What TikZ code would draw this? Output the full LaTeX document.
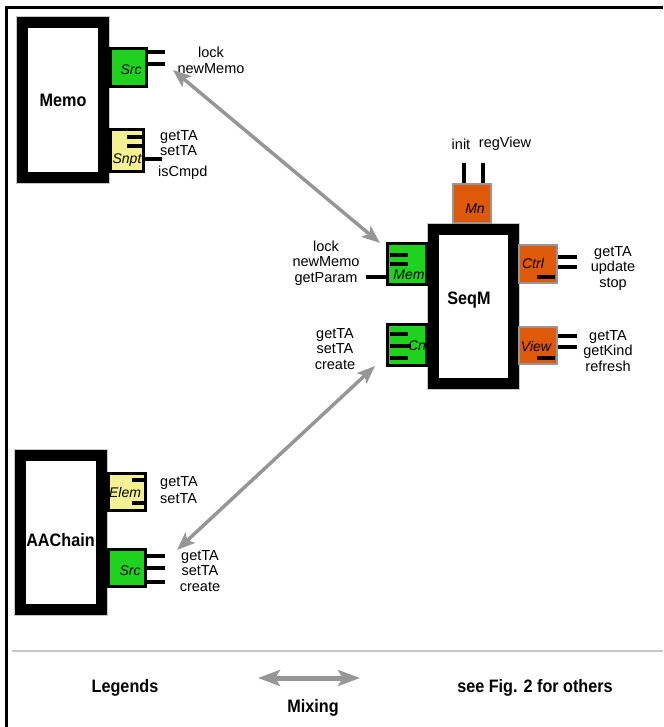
\documentclass[tikz,border=0pt]{standalone}
\usepackage{fontspec}
\setmainfont{Liberation Sans}
\newfontfamily\titlefont[FakeStretch=0.9]{Liberation Sans}
\usetikzlibrary{arrows.meta}
\definecolor{pgreen}{RGB}{30,210,30}
\definecolor{pyellow}{RGB}{245,240,145}
\definecolor{porange}{RGB}{222,90,10}
\definecolor{agray}{RGB}{150,150,150}
\definecolor{lgray}{RGB}{200,200,200}
\tikzset{
 bigbox/.style={draw=black, line width=11pt, fill=white, preaction={draw=lgray, line width=13pt}, inner sep=0pt},
 greenport/.style={draw=black, line width=3.5pt, fill=pgreen, inner sep=0pt},
 yellowport/.style={draw=black, line width=3.5pt, fill=pyellow, inner sep=0pt},
 orangeport/.style={draw=agray, line width=2pt, fill=porange, inner sep=0pt},
 pin/.style={line width=3.5pt, black},
 lbl/.style={font=\fontsize{14.5}{15.5}\selectfont, inner sep=0pt, align=center},
 lbll/.style={font=\fontsize{14.5}{15.5}\selectfont, inner sep=0pt, anchor=west},
 pname/.style={font=\fontsize{14}{15}\selectfont\itshape, inner sep=0pt},
 title/.style={font=\titlefont\fontsize{18}{20}\selectfont\bfseries, inner sep=0pt},
 mix/.style={agray, line width=3.5pt, {Stealth[length=18pt,width=14pt,inset=4pt]}-{Stealth[length=18pt,width=14pt,inset=4pt]}},
 mixbig/.style={agray, line width=5pt, {Stealth[length=22pt,width=16pt,inset=5pt]}-{Stealth[length=22pt,width=16pt,inset=5pt]}},
}
\begin{document}
\begin{tikzpicture}[x=1pt,y=-1pt]
\useasboundingbox (0,0) rectangle (663,727);
% frame
\draw[line width=3pt] (6,727) -- (6,8) -- (663,8);

% ---------- Memo ----------
\node[bigbox, minimum width=81pt, minimum height=155pt] (memo) at (63,100) {};
\node[title] (memoT) at (63,100) {Memo};
\node[greenport, minimum width=36pt, minimum height=38pt] (msrc) at (128.5,67.5) {};
\node[pname] (msrcT) at (131,70) {Src};
\draw[pin] (148,52) -- (165,52);
\draw[pin] (148,64) -- (165,64);
\node[lbl] (msrcL) at (211,60.5) {lock\\newMemo};
\node[yellowport, minimum width=33pt, minimum height=42pt] (snpt) at (127,150.5) {};
\draw[pin] (127,137) -- (145,137);
\draw[pin] (127,146) -- (145,146);
\draw[pin] (145,159) -- (162,159);
\node[pname] (snptT) at (127,160) {Snpt};
\node[lbll] (snptL1) at (160,137) {getTA};
\node[lbll] (snptL2) at (160,151) {setTA};
\node[lbll] (snptL3) at (158,173) {isCmpd};

% ---------- SeqM ----------
\node[bigbox, minimum width=80pt, minimum height=154pt] (seqm) at (473,306) {};
\node[title] (seqmT) at (469,300) {SeqM};
% Mn
\node[orangeport, minimum width=38pt, minimum height=39pt] (mn) at (472,203.5) {};
\node[pname] (mnT) at (475,209) {Mn};
\draw[pin] (464,163) -- (464,183);
\draw[pin] (483,163) -- (483,183);
\node[lbl] (mnL1) at (461,144) {init};
\node[lbl] (mnL2) at (505,144) {regView};
% Mem
\node[greenport, minimum width=39pt, minimum height=41pt] (mem) at (407,264) {};
\draw[pin] (390,255) -- (408,255);
\draw[pin] (390,264) -- (408,264);
\draw[pin] (366,277) -- (386,277);
\node[pname] (memT) at (409,275) {Mem};
\node[lbl] (memL) at (326,263) {lock\\newMemo\\getParam};
% Cn
\node[greenport, minimum width=39pt, minimum height=41pt] (cn) at (407,345) {};
\draw[pin] (390,334) -- (408,334);
\draw[pin] (390,346) -- (411,346);
\draw[pin] (390,358) -- (408,358);
\node[pname] (cnT) at (417,346) {Cn};
\node[lbl] (cnL) at (335,349) {getTA\\setTA\\create};
% Ctrl
\node[orangeport, minimum width=38pt, minimum height=38pt] (ctrl) at (538,264) {};
\draw[pin] (558,257) -- (577,257);
\draw[pin] (558,267) -- (577,267);
\draw[pin] (537,277) -- (555,277);
\node[pname] (ctrlT) at (533,263) {Ctrl};
\node[lbl] (ctrlL) at (613,268.5) {getTA\\update\\stop};
% View
\node[orangeport, minimum width=38pt, minimum height=37pt] (view) at (538,345.5) {};
\draw[pin] (558,336) -- (577,336);
\draw[pin] (558,347) -- (577,347);
\draw[pin] (537,358) -- (555,358);
\node[pname] (viewT) at (536,346) {View};
\node[lbl] (viewL) at (608,351) {getTA\\getKind\\refresh};

% ---------- AAChain ----------
\node[bigbox, minimum width=81pt, minimum height=154pt] (aac) at (61,532.5) {};
\node[title] (aacT) at (60.5,540) {AAChain};
\node[yellowport, minimum width=37pt, minimum height=37pt] (elem) at (127,492) {};
\draw[pin] (132,480) -- (147,480);
\draw[pin] (132,503) -- (147,503);
\node[pname] (elemT) at (125,492) {Elem};
\node[lbll] (elemL1) at (160,483) {getTA};
\node[lbll] (elemL2) at (160,499) {setTA};
\node[greenport, minimum width=37pt, minimum height=37pt] (asrc) at (127,568) {};
\draw[pin] (147,556) -- (165,556);
\draw[pin] (147,568) -- (165,568);
\draw[pin] (147,582) -- (165,582);
\node[pname] (asrcT) at (130,571) {Src};
\node[lbl] (asrcL) at (200,571) {getTA\\setTA\\create};

% ---------- mixing arrows ----------
\coordinate (mixA1) at (173,70);
\coordinate (mixA2) at (380,243);
\draw[mix] (mixA1) -- (mixA2);
\coordinate (mixB1) at (375,366);
\coordinate (mixB2) at (177,550);
\draw[mix] (mixB1) -- (mixB2);

% ---------- legend ----------
\coordinate (legL) at (12,651);
\coordinate (legR) at (663,651);
\draw[lgray, line width=2pt] (legL) -- (legR);
\node[title] (legT) at (125,688) {Legends};
\coordinate (legA1) at (258,678);
\coordinate (legA2) at (360,678);
\draw[mixbig] (legA1) -- (legA2);
\node[title] (legM) at (313,708) {Mixing};
\node[title] (legS) at (535,688) {see Fig. 2 for others};
\end{tikzpicture}
\end{document}
